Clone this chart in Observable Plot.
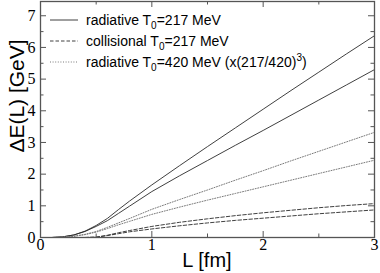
<!DOCTYPE html>
<html><head><meta charset="utf-8">
<script src="https://cdn.jsdelivr.net/npm/d3@7"></script>
<script src="https://cdn.jsdelivr.net/npm/@observablehq/plot@0.6"></script>
<style>html,body{margin:0;padding:0;background:#fff} svg{display:block}</style>
</head><body><div id="chart"></div>
<script>
// Path length L [fm]
const L = [0, 0.1, 0.2, 0.3, 0.4, 0.5, 0.6, 0.7, 0.8, 1.0, 1.25, 1.5, 1.75, 2.0, 2.25, 2.5, 2.75, 3.0];
// radiative T0=217 MeV (solid, two curves)
const radA = [0, 0, 0.02, 0.08, 0.20, 0.38, 0.60, 0.88, 1.15, 1.66, 2.27, 2.87, 3.46, 4.05, 4.64, 5.22, 5.80, 6.37];
const radB = [0, 0, 0.02, 0.08, 0.19, 0.35, 0.53, 0.76, 0.99, 1.45, 1.95, 2.43, 2.91, 3.38, 3.86, 4.34, 4.82, 5.30];
// collisional T0=217 MeV (dashed, two curves)
const colA = [null, null, null, null, 0, 0.01, 0.07, 0.15, 0.22, 0.35, 0.48, 0.59, 0.69, 0.78, 0.86, 0.94, 1.01, 1.07];
const colB = [null, null, null, null, 0, 0.01, 0.06, 0.12, 0.18, 0.27, 0.37, 0.46, 0.54, 0.61, 0.68, 0.75, 0.81, 0.87];
// radiative T0=420 MeV scaled (dotted, two curves)
const hotA = [0, 0, 0.01, 0.04, 0.10, 0.19, 0.32, 0.46, 0.60, 0.89, 1.20, 1.50, 1.81, 2.11, 2.42, 2.72, 3.02, 3.32];
const hotB = [0, 0, 0.01, 0.04, 0.09, 0.17, 0.28, 0.40, 0.51, 0.73, 0.96, 1.18, 1.39, 1.60, 1.81, 2.02, 2.23, 2.44];

const xTicks = [0, 1, 2, 3];
const xMinor = [0.5, 1.5, 2.5];
const yTicks = [0, 1, 2, 3, 4, 5, 6, 7];
const yMinor = [0.5, 1.5, 2.5, 3.5, 4.5, 5.5, 6.5];
const xTitle = "L [fm]";
const yTitle = "ΔE(L) [GeV]";
const legendItems = [
  {style: "solid", pre: "radiative T", sub: "0", post: "=217 MeV", sup: "", tail: ""},
  {style: "dashed", pre: "collisional T", sub: "0", post: "=217 MeV", sup: "", tail: ""},
  {style: "dotted", pre: "radiative T", sub: "0", post: "=420 MeV (x(217/420)", sup: "3", tail: ")"}
];

const series = [
  {name: "radA", style: "solid", v: radA},
  {name: "radB", style: "solid", v: radB},
  {name: "colA", style: "dashed", v: colA},
  {name: "colB", style: "dashed", v: colB},
  {name: "hotA", style: "dotted", v: hotA},
  {name: "hotB", style: "dotted", v: hotB}
];
const rows = series.flatMap(s => L.map((l, i) => ({L: l, E: s.v[i] == null ? NaN : s.v[i], name: s.name, style: s.style})));

const W = 380, H = 273;
const mL = 40, mR = 6, mT = 1, mB = 36;
const FW = W - mL - mR, FH = H - mT - mB;
const major = 6, minor = 3.5;
const axisColor = "#555";
const dash = {solid: null, dashed: "3.5,2", dotted: "1,1.6"};
const color = {solid: "#2a2a2a", dashed: "#2a2a2a", dotted: "#7a7a7a"};
const serif = "Liberation Serif";
const sans = "Liberation Sans";

const lineMarks = ["solid", "dashed", "dotted"].map(st =>
  Plot.line(rows.filter(r => r.style === st), {x: "L", y: "E", z: "name", stroke: color[st], strokeWidth: st === "dotted" ? 1 : 0.9, strokeDasharray: dash[st]})
);

const svg = Plot.plot({
  width: W, height: H,
  marginLeft: mL, marginRight: mR, marginTop: mT, marginBottom: mB,
  x: {domain: [0, 3], axis: null},
  y: {domain: [0, 7.45], axis: null},
  style: {background: "#fff", fontFamily: serif},
  marks: [
    ...lineMarks,
    // inward ticks, all four sides
    Plot.tickX(xTicks, {x: d => d, insetTop: FH - major, stroke: axisColor}),
    Plot.tickX(xMinor, {x: d => d, insetTop: FH - minor, stroke: axisColor}),
    Plot.tickX(xTicks, {x: d => d, insetBottom: FH - major, stroke: axisColor}),
    Plot.tickX(xMinor, {x: d => d, insetBottom: FH - minor, stroke: axisColor}),
    Plot.tickY(yTicks, {y: d => d, insetRight: FW - major, stroke: axisColor}),
    Plot.tickY(yMinor, {y: d => d, insetRight: FW - minor, stroke: axisColor}),
    Plot.tickY(yTicks, {y: d => d, insetLeft: FW - major, stroke: axisColor}),
    Plot.tickY(yMinor, {y: d => d, insetLeft: FW - minor, stroke: axisColor}),
    // tick labels (serif)
    Plot.text(xTicks, {x: d => d, frameAnchor: "bottom", text: d => String(d), dy: 12, fontFamily: serif, fontSize: 16, fill: "#000"}),
    Plot.text(yTicks, {y: d => d, frameAnchor: "left", text: d => String(d), dx: -5, textAnchor: "end", fontFamily: serif, fontSize: 16, fill: "#000"}),
    Plot.frame({stroke: axisColor, strokeWidth: 1.3})
  ]
});

const g = d3.select(svg).append("g").attr("fill", "#000").attr("font-family", sans);
// axis titles
g.append("text").attr("x", mL + FW / 2).attr("y", H - 6.5).attr("text-anchor", "middle")
  .attr("font-size", 20).text(xTitle);
g.append("text").attr("transform", `translate(23.5,${mT + 95}) rotate(-90)`).attr("text-anchor", "middle")
  .attr("font-size", 21).text(yTitle);
// legend
legendItems.forEach((it, i) => {
  const yy = mT + 19 + i * 21;
  g.append("line").attr("x1", mL + 10).attr("x2", mL + 38).attr("y1", yy).attr("y2", yy)
    .attr("stroke", color[it.style]).attr("stroke-width", it.style === "dotted" ? 1 : 0.9)
    .attr("stroke-dasharray", dash[it.style]);
  const t = g.append("text").attr("x", mL + 46).attr("y", yy + 5).attr("font-size", 14).attr("text-anchor", "start");
  t.append("tspan").text(it.pre);
  t.append("tspan").attr("font-size", 10).attr("dy", 4).text(it.sub);
  t.append("tspan").attr("dy", -4).text(it.post);
  if (it.sup) {
    t.append("tspan").attr("font-size", 10).attr("dy", -6).text(it.sup);
    t.append("tspan").attr("dy", 6).text(it.tail);
  }
});

document.getElementById("chart").appendChild(svg);
</script>
</body></html>
